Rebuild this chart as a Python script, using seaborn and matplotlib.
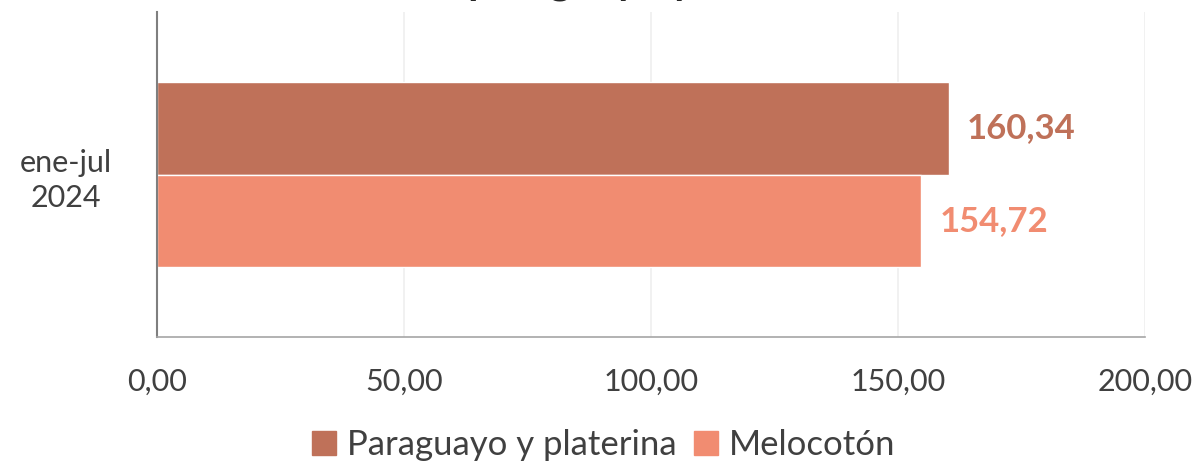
import pandas as pd
import matplotlib.pyplot as plt
import seaborn as sns

# Data
periodos = ["ene-jul\n2024"]
series = ["Paraguayo y platerina", "Melocotón"]
valores = [160.34, 154.72]
colores = ["#BF7159", "#F18C71"]

df = pd.DataFrame({
    "periodo": periodos * len(series),
    "serie": series,
    "valor": valores,
})

sns.set_theme(style="white")
plt.rcParams["font.family"] = ["Lato", "DejaVu Sans"]

fig = plt.figure(figsize=(11.95, 4.62), dpi=100)
ax = fig.add_axes([157 / 1195, 1 - 337 / 462, (1145 - 157) / 1195, (337 - 12) / 462])

sns.barplot(data=df, y="periodo", x="valor", hue="serie", palette=colores,
            orient="h", width=0.57, saturation=1, ax=ax, legend=False)

ax.set_xlim(0, 200)
ax.set_xticks([0, 50, 100, 150, 200])
ax.set_xticklabels([f"{v:.2f}".replace(".", ",") for v in [0, 50, 100, 150, 200]])
ax.grid(axis="x", color="#EFEFEF", linewidth=1.2)
ax.set_axisbelow(True)
ax.set_xlabel("")
ax.set_ylabel("")
ax.tick_params(axis="x", length=0, labelsize=22, labelcolor="#404040", pad=22)
ax.tick_params(axis="y", length=0, labelsize=22, labelcolor="#404040")
for lbl in ax.get_yticklabels():
    lbl.set_horizontalalignment("center")
    lbl.set_x(-0.087)
    lbl.set_linespacing(1.3)

for s in ["top", "right"]:
    ax.spines[s].set_visible(False)
ax.spines["left"].set_color("#7F7F7F")
ax.spines["left"].set_linewidth(1.5)
ax.spines["bottom"].set_color("#A6A6A6")
ax.spines["bottom"].set_linewidth(1.2)

# value labels
for cont, col in zip(ax.containers, colores):
    ax.bar_label(cont, labels=[f"{v:.2f}".replace(".", ",") for v in cont.datavalues],
                 padding=13, color=col, fontsize=25, fontweight="bold")

# title, mostly cut off at the top as in the reference
fig.text(0.52, 1.013, "Precio paraguayo y melocotón", ha="center", va="baseline",
         fontsize=30, fontweight="bold", color="#262626")

# legend
handles = [plt.Rectangle((0, 0), 1, 1, color=c) for c in colores]
fig.legend(handles, series, loc="center", bbox_to_anchor=(0.505, 1 - 445 / 462),
           ncol=2, frameon=False, fontsize=25, handlelength=0.7, handleheight=0.7,
           handletextpad=0.3, columnspacing=0.5, labelcolor="#404040")

fig.savefig("out.png", dpi=100)
